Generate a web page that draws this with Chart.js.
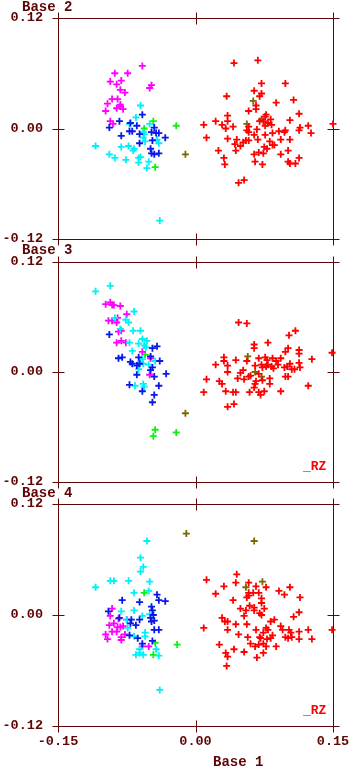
<!DOCTYPE html>
<html>
<head>
<meta charset="utf-8">
<script src="https://cdn.jsdelivr.net/npm/chart.js@4/dist/chart.umd.min.js"></script>
<style>
  html, body { margin: 0; padding: 0; background: #fff; }
  #wrap { position: relative; width: 352px; height: 769px; }
  #wrap canvas { position: absolute; left: 0; top: 0; }
</style>
</head>
<body>
<div id="wrap">
  <canvas id="c2" width="352" height="769"></canvas>
  <canvas id="c3" width="352" height="769"></canvas>
  <canvas id="c4" width="352" height="769"></canvas>
</div>
<script>
// tick values shared by the three panels
const xTicks = [-0.15, 0, 0.15];
const yTicks = [-0.12, 0, 0.12];

// ---- Base 2 vs Base 1 ----
const b2Red = [
  [0.042,0.071],[0.068,0.074],[0.072,0.049],[0.098,0.049],[0.064,0.041],[0.072,0.038],[0.070,0.035],[0.034,0.035],
  [0.107,0.031],[0.088,0.028],[0.066,0.025],[0.066,0.021],[0.058,0.019],[0.113,0.016],[0.077,0.015],[0.076,0.013],
  [0.035,0.014],[0.022,0.008],[0.035,0.008],[0.070,0.008],[0.074,0.008],[0.082,0.010],[0.079,0.006],[0.103,0.009],
  [0.009,0.004],[0.029,0.004],[0.033,0.000],[0.041,0.002],[0.058,0.002],[0.056,-0.002],[0.058,-0.004],[0.067,-0.001],
  [0.076,0.003],[0.083,0.004],[0.114,0.001],[0.113,-0.002],[0.123,0.003],[0.126,-0.005],[0.091,-0.003],[0.098,-0.002],
  [0.097,-0.004],[0.084,-0.005],[0.076,-0.007],[0.064,-0.007],[0.012,-0.010],[0.035,-0.011],[0.045,-0.012],[0.055,-0.013],
  [0.058,-0.013],[0.052,-0.015],[0.068,-0.012],[0.081,-0.014],[0.093,-0.012],[0.103,-0.012],[0.043,-0.017],[0.049,-0.019],
  [0.084,-0.018],[0.086,-0.018],[0.075,-0.020],[0.078,-0.022],[0.025,-0.024],[0.044,-0.024],[0.069,-0.026],[0.074,-0.027],
  [0.101,-0.024],[0.064,-0.028],[0.093,-0.028],[0.031,-0.032],[0.113,-0.032],[0.101,-0.036],[0.103,-0.038],[0.109,-0.038],
  [0.065,-0.036],[0.073,-0.039],[0.032,-0.039],[0.053,-0.056],[0.047,-0.059],[0.150,0.005]
];
const b2Olive = [[-0.011,-0.028],[0.063,0.030],[0.072,0.010],[0.056,0.005]];
const b2Magenta = [
  [-0.058,0.068],[-0.088,0.060],[-0.074,0.060],[-0.093,0.051],[-0.086,0.048],[-0.081,0.052],[-0.048,0.047],[-0.050,0.044],
  [-0.082,0.042],[-0.077,0.039],[-0.091,0.032],[-0.085,0.032],[-0.096,0.027],[-0.082,0.026],[-0.082,0.024],[-0.086,0.022],
  [-0.079,0.021],[-0.098,0.019],[-0.093,0.008],[-0.090,0.005]
];
const b2Cyan = [
  [-0.060,0.025],[-0.065,0.012],[-0.050,0.005],[-0.072,0.005],[-0.057,-0.004],[-0.056,-0.006],[-0.057,-0.010],[-0.055,-0.014],
  [-0.042,-0.012],[-0.040,-0.016],[-0.109,-0.019],[-0.081,-0.020],[-0.073,-0.019],[-0.067,-0.022],[-0.068,-0.024],[-0.094,-0.028],
  [-0.088,-0.032],[-0.076,-0.034],[-0.062,-0.032],[-0.060,-0.031],[-0.062,-0.037],[-0.051,-0.036],[-0.053,-0.043],[-0.039,-0.100]
];
const b2Blue = [
  [-0.058,0.015],[-0.083,0.008],[-0.071,0.006],[-0.094,0.001],[-0.064,0.003],[-0.072,-0.003],[-0.069,-0.003],[-0.045,0.001],
  [-0.048,-0.004],[-0.043,-0.005],[-0.040,-0.005],[-0.081,-0.008],[-0.061,-0.006],[-0.033,-0.010],[-0.047,-0.013],[-0.061,-0.016],
  [-0.049,-0.022],[-0.040,-0.027],[-0.045,-0.028],[-0.048,-0.027]
];
const b2Green = [[-0.046,0.008],[-0.056,0.000],[-0.021,0.003],[-0.044,-0.042]];

// ---- Base 3 vs Base 1 ----
const b3Red = [
  [0.047,0.054],[0.056,0.053],[0.109,0.045],[0.102,0.040],[0.064,0.030],[0.064,0.026],[0.079,0.032],[0.101,0.026],
  [0.098,0.022],[0.113,0.024],[0.113,0.020],[0.031,0.016],[0.031,0.012],[0.044,0.013],[0.056,0.012],[0.069,0.015],
  [0.076,0.016],[0.078,0.013],[0.084,0.015],[0.088,0.012],[0.093,0.015],[0.127,0.014],[0.113,0.010],[0.022,0.008],
  [0.035,0.007],[0.035,0.000],[0.065,0.007],[0.072,0.008],[0.073,0.005],[0.077,0.006],[0.079,0.008],[0.083,0.006],
  [0.085,0.004],[0.090,0.008],[0.097,0.005],[0.100,0.006],[0.103,0.009],[0.105,0.003],[0.108,0.003],[0.114,0.005],
  [0.052,0.002],[0.049,-0.001],[0.069,-0.002],[0.060,-0.004],[0.058,-0.005],[0.053,-0.008],[0.098,-0.005],[0.101,-0.005],
  [0.046,-0.007],[0.081,-0.007],[0.012,-0.008],[0.026,-0.010],[0.029,-0.013],[0.066,-0.010],[0.065,-0.013],[0.073,-0.009],
  [0.081,-0.013],[0.123,-0.015],[0.064,-0.017],[0.009,-0.022],[0.033,-0.021],[0.041,-0.022],[0.044,-0.022],[0.059,-0.022],
  [0.069,-0.022],[0.071,-0.025],[0.075,-0.021],[0.093,-0.021],[0.042,-0.035],[0.035,-0.038],[0.149,0.021]
];
const b3Olive = [[-0.011,-0.045],[0.057,0.017],[0.065,0.000],[0.072,-0.005]];
const b3Magenta = [
  [-0.098,0.074],[-0.093,0.076],[-0.091,0.073],[-0.089,0.073],[-0.082,0.072],[-0.075,0.063],[-0.095,0.056],[-0.091,0.056],
  [-0.086,0.054],[-0.085,0.059],[-0.084,0.044],[-0.081,0.045],[-0.086,0.032],[-0.081,0.034],[-0.076,0.032],[-0.058,0.022],
  [-0.049,0.015],[-0.050,-0.003]
];
const b3Cyan = [
  [-0.093,0.094],[-0.109,0.088],[-0.067,0.066],[-0.088,0.059],[-0.076,0.057],[-0.073,0.054],[-0.082,0.047],[-0.068,0.045],
  [-0.060,0.045],[-0.058,0.036],[-0.053,0.034],[-0.072,0.032],[-0.062,0.031],[-0.056,0.029],[-0.054,0.027],[-0.069,0.023],
  [-0.058,0.014],[-0.060,0.011],[-0.057,0.009],[-0.062,0.003],[-0.051,0.008],[-0.044,0.012],[-0.066,-0.015],[-0.057,-0.013],
  [-0.056,-0.016]
];
const b3Blue = [
  [-0.094,0.041],[-0.042,0.028],[-0.047,0.026],[-0.084,0.015],[-0.080,0.016],[-0.062,0.016],[-0.071,0.011],[-0.069,0.009],
  [-0.064,0.007],[-0.061,0.009],[-0.049,0.017],[-0.047,0.005],[-0.049,0.002],[-0.039,0.012],[-0.032,-0.002],[-0.064,-0.003],
  [-0.045,-0.005],[-0.072,-0.014],[-0.040,-0.015],[-0.058,-0.021],[-0.045,-0.025],[-0.047,-0.033]
];
const b3Green = [[-0.055,0.019],[-0.044,-0.063],[-0.046,-0.070],[-0.021,-0.066]];

// ---- Base 4 vs Base 1 ----
const b4Red = [
  [0.045,0.044],[0.012,0.038],[0.044,0.035],[0.058,0.035],[0.031,0.031],[0.066,0.031],[0.077,0.030],[0.103,0.030],
  [0.091,0.026],[0.097,0.022],[0.058,0.024],[0.063,0.024],[0.069,0.024],[0.022,0.023],[0.114,0.019],[0.056,0.019],
  [0.058,0.021],[0.072,0.018],[0.041,0.016],[0.072,0.013],[0.059,0.010],[0.064,0.008],[0.075,0.007],[0.049,0.007],
  [0.055,0.005],[0.064,0.005],[0.070,0.002],[0.072,0.000],[0.113,0.003],[0.053,-0.001],[0.107,-0.002],[0.029,-0.003],
  [0.086,-0.005],[0.082,-0.007],[0.032,-0.007],[0.035,-0.007],[0.056,-0.010],[0.044,-0.010],[0.093,-0.012],[0.095,-0.016],
  [0.009,-0.014],[0.035,-0.016],[0.066,-0.016],[0.077,-0.014],[0.079,-0.016],[0.102,-0.016],[0.104,-0.019],[0.113,-0.018],
  [0.123,-0.016],[0.127,-0.026],[0.149,-0.016],[0.047,-0.021],[0.074,-0.019],[0.084,-0.022],[0.082,-0.025],[0.070,-0.024],
  [0.071,-0.025],[0.057,-0.024],[0.098,-0.024],[0.101,-0.025],[0.105,-0.024],[0.113,-0.026],[0.078,-0.026],[0.060,-0.031],
  [0.069,-0.032],[0.074,-0.031],[0.077,-0.034],[0.065,-0.034],[0.088,-0.034],[0.026,-0.032],[0.042,-0.037],[0.053,-0.040],
  [0.033,-0.041],[0.035,-0.045],[0.074,-0.041],[0.067,-0.046],[0.034,-0.055]
];
const b4Olive = [[-0.010,0.088],[0.064,0.080],[0.073,0.036],[0.055,0.030]];
const b4Magenta = [
  [-0.091,0.007],[-0.093,-0.001],[-0.084,-0.004],[-0.075,-0.005],[-0.089,-0.009],[-0.094,-0.011],[-0.085,-0.013],[-0.082,-0.013],
  [-0.079,-0.012],[-0.091,-0.018],[-0.086,-0.018],[-0.098,-0.021],[-0.077,-0.021],[-0.096,-0.026],[-0.081,-0.024],[-0.081,-0.027],
  [-0.058,-0.034],[-0.051,-0.034]
];
const b4Cyan = [
  [-0.053,0.080],[-0.060,0.062],[-0.057,0.052],[-0.060,0.047],[-0.093,0.037],[-0.089,0.037],[-0.073,0.037],[-0.050,0.036],
  [-0.109,0.030],[-0.067,0.024],[-0.051,0.026],[-0.081,0.004],[-0.067,0.005],[-0.058,-0.001],[-0.050,0.001],[-0.075,-0.005],
  [-0.074,-0.014],[-0.055,-0.019],[-0.055,-0.023],[-0.067,-0.023],[-0.061,-0.037],[-0.043,-0.037],[-0.065,-0.043],[-0.061,-0.041],
  [-0.057,-0.043],[-0.040,-0.044],[-0.039,-0.081]
];
const b4Blue = [
  [-0.042,0.022],[-0.040,0.016],[-0.033,0.015],[-0.080,0.016],[-0.061,0.014],[-0.095,0.004],[-0.048,0.009],[-0.047,0.005],
  [-0.083,-0.003],[-0.070,-0.005],[-0.071,-0.009],[-0.061,-0.005],[-0.049,-0.003],[-0.046,0.000],[-0.048,-0.007],[-0.045,-0.006],
  [-0.065,-0.011],[-0.045,-0.016],[-0.040,-0.016],[-0.072,-0.022],[-0.063,-0.025],[-0.058,-0.031],[-0.047,-0.028]
];
const b4Green = [[-0.056,0.024],[-0.044,-0.030],[-0.020,-0.032],[-0.046,-0.043]];

const AXIS = '#5e0606';
const FAMILY = '"Liberation Mono", "DejaVu Sans Mono", monospace';
const COLORS = {
  red: '#ff0000', olive: '#7a6800', blue: '#0818e8', cyan: '#00f0f8', magenta: '#ff00ff', green: '#10f010'
};

const panels = [
  { id: 'c2', title: 'Base 2', titleY: 7.5, top: 18, bottom: 239, showX: false, rz: false,
    groups: [[b2Red, 'red'], [b2Olive, 'olive'], [b2Blue, 'blue'], [b2Cyan, 'cyan'], [b2Magenta, 'magenta'], [b2Green, 'green']] },
  { id: 'c3', title: 'Base 3', titleY: 250, top: 262, bottom: 482, showX: false, rz: true,
    groups: [[b3Red, 'red'], [b3Olive, 'olive'], [b3Blue, 'blue'], [b3Cyan, 'cyan'], [b3Magenta, 'magenta'], [b3Green, 'green']] },
  { id: 'c4', title: 'Base 4', titleY: 493, top: 504, bottom: 726, showX: true, rz: true,
    groups: [[b4Red, 'red'], [b4Olive, 'olive'], [b4Blue, 'blue'], [b4Cyan, 'cyan'], [b4Magenta, 'magenta'], [b4Green, 'green']] }
];

const X_AXIS_H = 30;
const toPoints = (arr) => arr.map(p => ({ x: p[0], y: p[1] }));

// frame with crossing tick marks, drawn under the points
const framePlugin = {
  id: 'frame',
  beforeDatasetsDraw(chart) {
    const { ctx, chartArea: a, scales } = chart;
    const L = Math.round(a.left) + 0.5, R = Math.round(a.right) + 0.5;
    const T = Math.round(a.top) + 0.5, B = Math.round(a.bottom) + 0.5;
    ctx.save();
    ctx.strokeStyle = AXIS;
    ctx.lineWidth = 1;
    ctx.beginPath();
    ctx.rect(L, T, R - L, B - T);
    xTicks.forEach(v => {
      const px = Math.round(scales.x.getPixelForValue(v)) + 0.5;
      ctx.moveTo(px, T - 6); ctx.lineTo(px, T + 6);
      ctx.moveTo(px, B - 6); ctx.lineTo(px, B + 6);
    });
    yTicks.forEach(v => {
      const py = Math.round(scales.y.getPixelForValue(v)) + 0.5;
      ctx.moveTo(L - 6, py); ctx.lineTo(L + 6, py);
      ctx.moveTo(R - 6, py); ctx.lineTo(R + 6, py);
    });
    ctx.stroke();
    ctx.restore();
  },
  afterDraw(chart, args, opts) {
    const { ctx, chartArea: a } = chart;
    ctx.save();
    ctx.textBaseline = 'middle';
    ctx.textAlign = 'left';
    ctx.fillStyle = AXIS;
    ctx.font = 'bold 14px ' + FAMILY;
    ctx.fillText(opts.title, 22, opts.titleY);
    if (opts.xTitle) ctx.fillText(opts.xTitle, 213, 762);
    if (opts.rz) {
      ctx.fillStyle = '#ff0000';
      ctx.font = 'bold 13px ' + FAMILY;
      ctx.fillText('_RZ', 303, a.bottom - 15);
    }
    ctx.restore();
  }
};

panels.forEach(p => {
  const tickFont = { family: FAMILY, size: 13.5, weight: 'bold' };
  new Chart(document.getElementById(p.id), {
    type: 'scatter',
    data: {
      datasets: p.groups.map(([arr, key]) => ({
        data: toPoints(arr),
        pointStyle: 'cross',
        pointRadius: 3.5,
        pointBorderWidth: 1.8,
        borderColor: COLORS[key],
        backgroundColor: COLORS[key],
        clip: false
      }))
    },
    options: {
      responsive: false,
      animation: false,
      devicePixelRatio: 1,
      layout: {
        padding: { left: 0, right: 19, top: p.top, bottom: p.showX ? 769 - p.bottom - X_AXIS_H : 769 - p.bottom }
      },
      plugins: {
        legend: { display: false },
        tooltip: { enabled: false },
        frame: { title: p.title, titleY: p.titleY, rz: p.rz, xTitle: p.showX ? 'Base 1' : null }
      },
      scales: {
        x: {
          type: 'linear',
          min: -0.15, max: 0.15,
          display: p.showX,
          afterBuildTicks: (s) => { s.ticks = xTicks.map(v => ({ value: v })); },
          afterFit: (s) => { s.height = p.showX ? X_AXIS_H : 0; },
          grid: { display: false, drawTicks: true, tickLength: 7 },
          border: { display: false },
          ticks: {
            padding: 0, autoSkip: false, maxRotation: 0,
            color: AXIS, font: tickFont,
            callback: (v) => v.toFixed(2)
          }
        },
        y: {
          type: 'linear',
          min: -0.12, max: 0.12,
          afterBuildTicks: (s) => { s.ticks = yTicks.map(v => ({ value: v })); },
          afterFit: (s) => { s.width = 58; },
          // label gap comes from the (hidden) tick length so it does not pad the chart area
          grid: { display: false, drawTicks: true, tickLength: 15 },
          border: { display: false },
          ticks: {
            padding: 0, color: AXIS, font: tickFont,
            callback: (v) => v.toFixed(2)
          }
        }
      }
    },
    plugins: [framePlugin]
  });
});
</script>
</body>
</html>
